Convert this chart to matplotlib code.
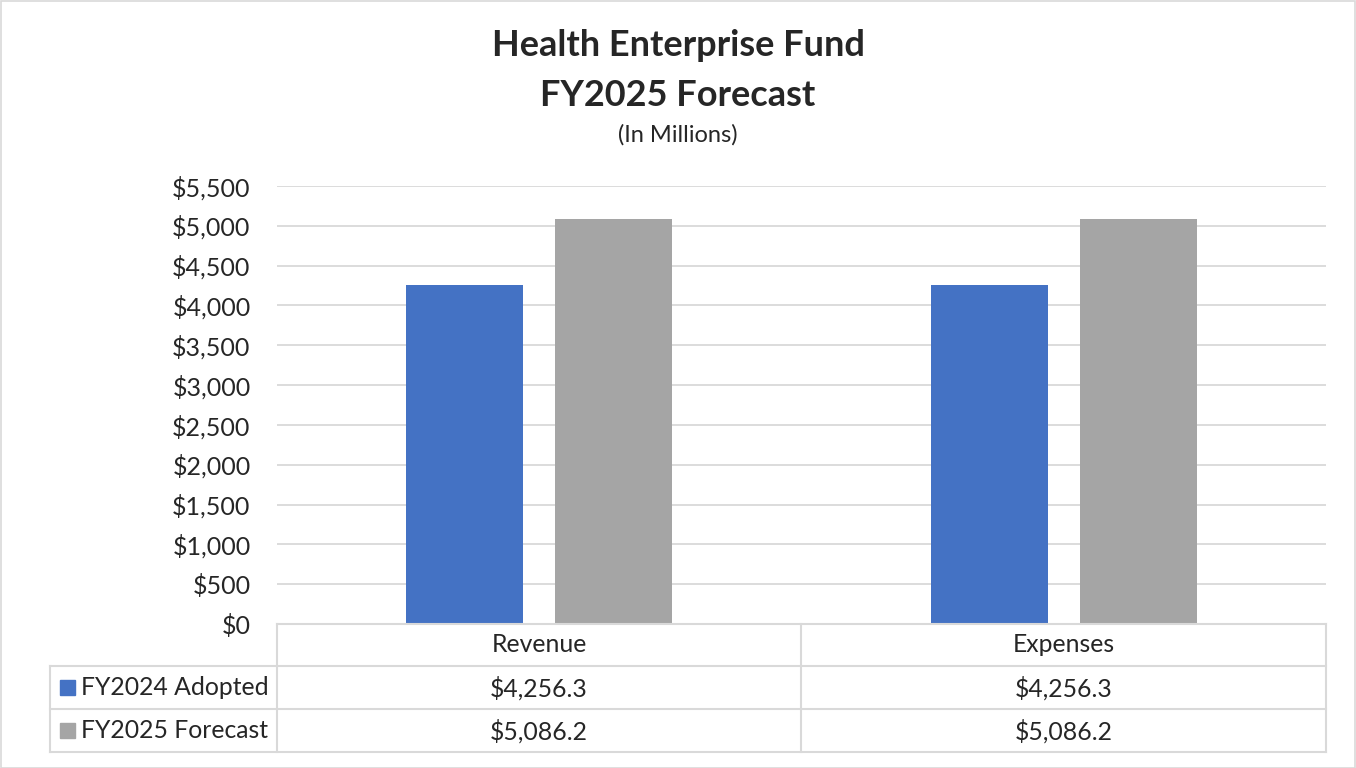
import matplotlib.pyplot as plt
from matplotlib.patches import Rectangle
import numpy as np

plt.rcParams['font.family'] = ['Lato', 'DejaVu Sans']

categories = ["Revenue", "Expenses"]
series_names = ["FY2024 Adopted", "FY2025 Forecast"]
fy2024 = [4256.3, 4256.3]
fy2025 = [5086.2, 5086.2]
colors = ["#4472c4", "#a5a5a5"]
yticks = list(range(0, 5501, 500))

W, H = 1356, 768
fig = plt.figure(figsize=(W / 100, H / 100), dpi=100)
grid_c = "#d9d9d9"
txt_c = "#262626"

# outer frame
fig.patches.append(Rectangle((0.5 / W, 0.5 / H), 1 - 1.5 / W, 1 - 1.5 / H,
                             transform=fig.transFigure, fill=False,
                             edgecolor=grid_c, lw=1.2))

def fx(px):
    return px / W

def fy(py):
    return 1 - py / H

# main plot
ax = fig.add_axes([fx(277), fy(624), fx(1326) - fx(277), fy(186) - fy(624)])
x = np.arange(len(categories))
w = 0.223
off = 0.142
ax.bar(x - off, fy2024, w, color=colors[0], zorder=3)
ax.bar(x + off, fy2025, w, color=colors[1], zorder=3)
ax.set_xlim(-0.5, len(categories) - 0.5)
ax.set_ylim(0, 5500)
ax.set_yticks(yticks)
ax.set_yticklabels([f"${v:,}" for v in yticks], fontsize=18, color=txt_c)
ax.set_xticks([])
ax.tick_params(axis='y', length=0, pad=19)
ax.grid(axis='y', color=grid_c, lw=1.3, zorder=0)
for s in ax.spines.values():
    s.set_visible(False)

# data table
tab = fig.add_axes([fx(50), fy(752), fx(1326) - fx(50), fy(624) - fy(752)])
tab.set_xlim(50, 1326)
tab.set_ylim(752, 624)
tab.axis('off')
col_edges = [277, 801, 1326]
row_edges = [624, 666, 709, 752]
lk = dict(color=grid_c, lw=1.5, clip_on=False)
# header row lines (no left label cell)
tab.plot([277, 1326], [624, 624], **lk)
for r in row_edges[1:]:
    tab.plot([50, 1326], [r, r], **lk)
tab.plot([50, 50], [666, 752], **lk)
for c in col_edges:
    tab.plot([c, c], [624, 752], **lk)

fs = 17.8
for i, cat in enumerate(categories):
    cx = (col_edges[i] + col_edges[i + 1]) / 2
    tab.text(cx, 645, cat, ha='center', va='center', fontsize=fs, color=txt_c)
    tab.text(cx, 688, f"${fy2024[i]:,.1f}", ha='center', va='center', fontsize=fs, color=txt_c)
    tab.text(cx, 731, f"${fy2025[i]:,.1f}", ha='center', va='center', fontsize=fs, color=txt_c)

for j, (name, col) in enumerate(zip(series_names, colors)):
    yc = (row_edges[j + 1] + row_edges[j + 2]) / 2
    tab.add_patch(Rectangle((60, yc - 7.5), 15, 15, color=col, clip_on=False))
    tab.text(81, yc, name, ha='left', va='center', fontsize=fs, color=txt_c)

# titles
fig.text(0.5, fy(46), "Health Enterprise Fund", ha='center', va='center',
         fontsize=26, fontweight='bold', color=txt_c)
fig.text(0.5, fy(95), "FY2025 Forecast", ha='center', va='center',
         fontsize=26, fontweight='bold', color=txt_c)
fig.text(0.5, fy(135), "(In Millions)", ha='center', va='center',
         fontsize=17, color=txt_c)

fig.savefig("out.png", dpi=100)
